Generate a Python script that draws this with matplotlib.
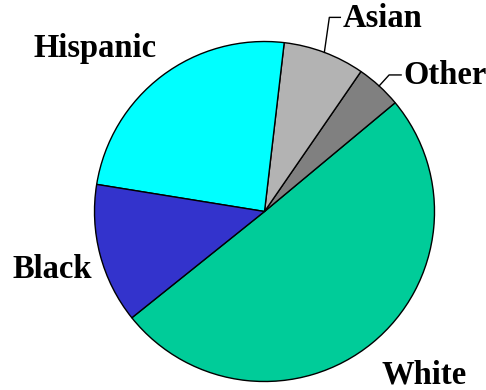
import numpy as np
import matplotlib.pyplot as plt

# share of each group, in percent (counter-clockwise from the White wedge)
groups = ['White', 'Other', 'Asian', 'Hispanic', 'Black']
shares = [50.3, 4.35, 7.75, 24.3, 13.3]
colors = ['#00CC99', '#808080', '#B3B3B3', '#00FFFF', '#3333CC']

fig = plt.figure(figsize=(4.86, 3.9), dpi=100)
ax = fig.add_axes([0, 0, 1, 1])

cx, cy, r = 264.5, 178.5, 170
wedges, _ = ax.pie(shares, colors=colors, startangle=218.7, counterclock=True,
                   center=(cx, cy), radius=r, frame=True,
                   wedgeprops=dict(edgecolor='black', linewidth=1))
ax.set_xlim(0, 486)
ax.set_ylim(0, 390)
ax.set_aspect('equal')
ax.axis('off')

font = dict(family='Liberation Serif', fontweight='bold', fontsize=23.5, color='black')

# plain labels
ax.text(95, 342, 'Hispanic', ha='center', va='center', **font)
ax.text(52, 121, 'Black', ha='center', va='center', **font)
ax.text(424, 7, 'White', ha='center', va='baseline', **font)

# labels with leader lines for the thin wedges
def leader(w, dx, dy, run, text):
    mid = np.deg2rad((w.theta1 + w.theta2) / 2)
    x0, y0 = cx + r * np.cos(mid), cy + r * np.sin(mid)
    x1, y1 = x0 + dx, y0 + dy
    ax.plot([x0, x1, x1 + run], [y0, y1, y1], color='black', lw=1)
    ax.text(x1 + run + 2, y1 - 1, text, ha='left', va='center', **font)

leader(wedges[2], 5, 35, 11, 'Asian')
leader(wedges[1], 10, 11, 12, 'Other')

fig.savefig('out.png', dpi=100)
